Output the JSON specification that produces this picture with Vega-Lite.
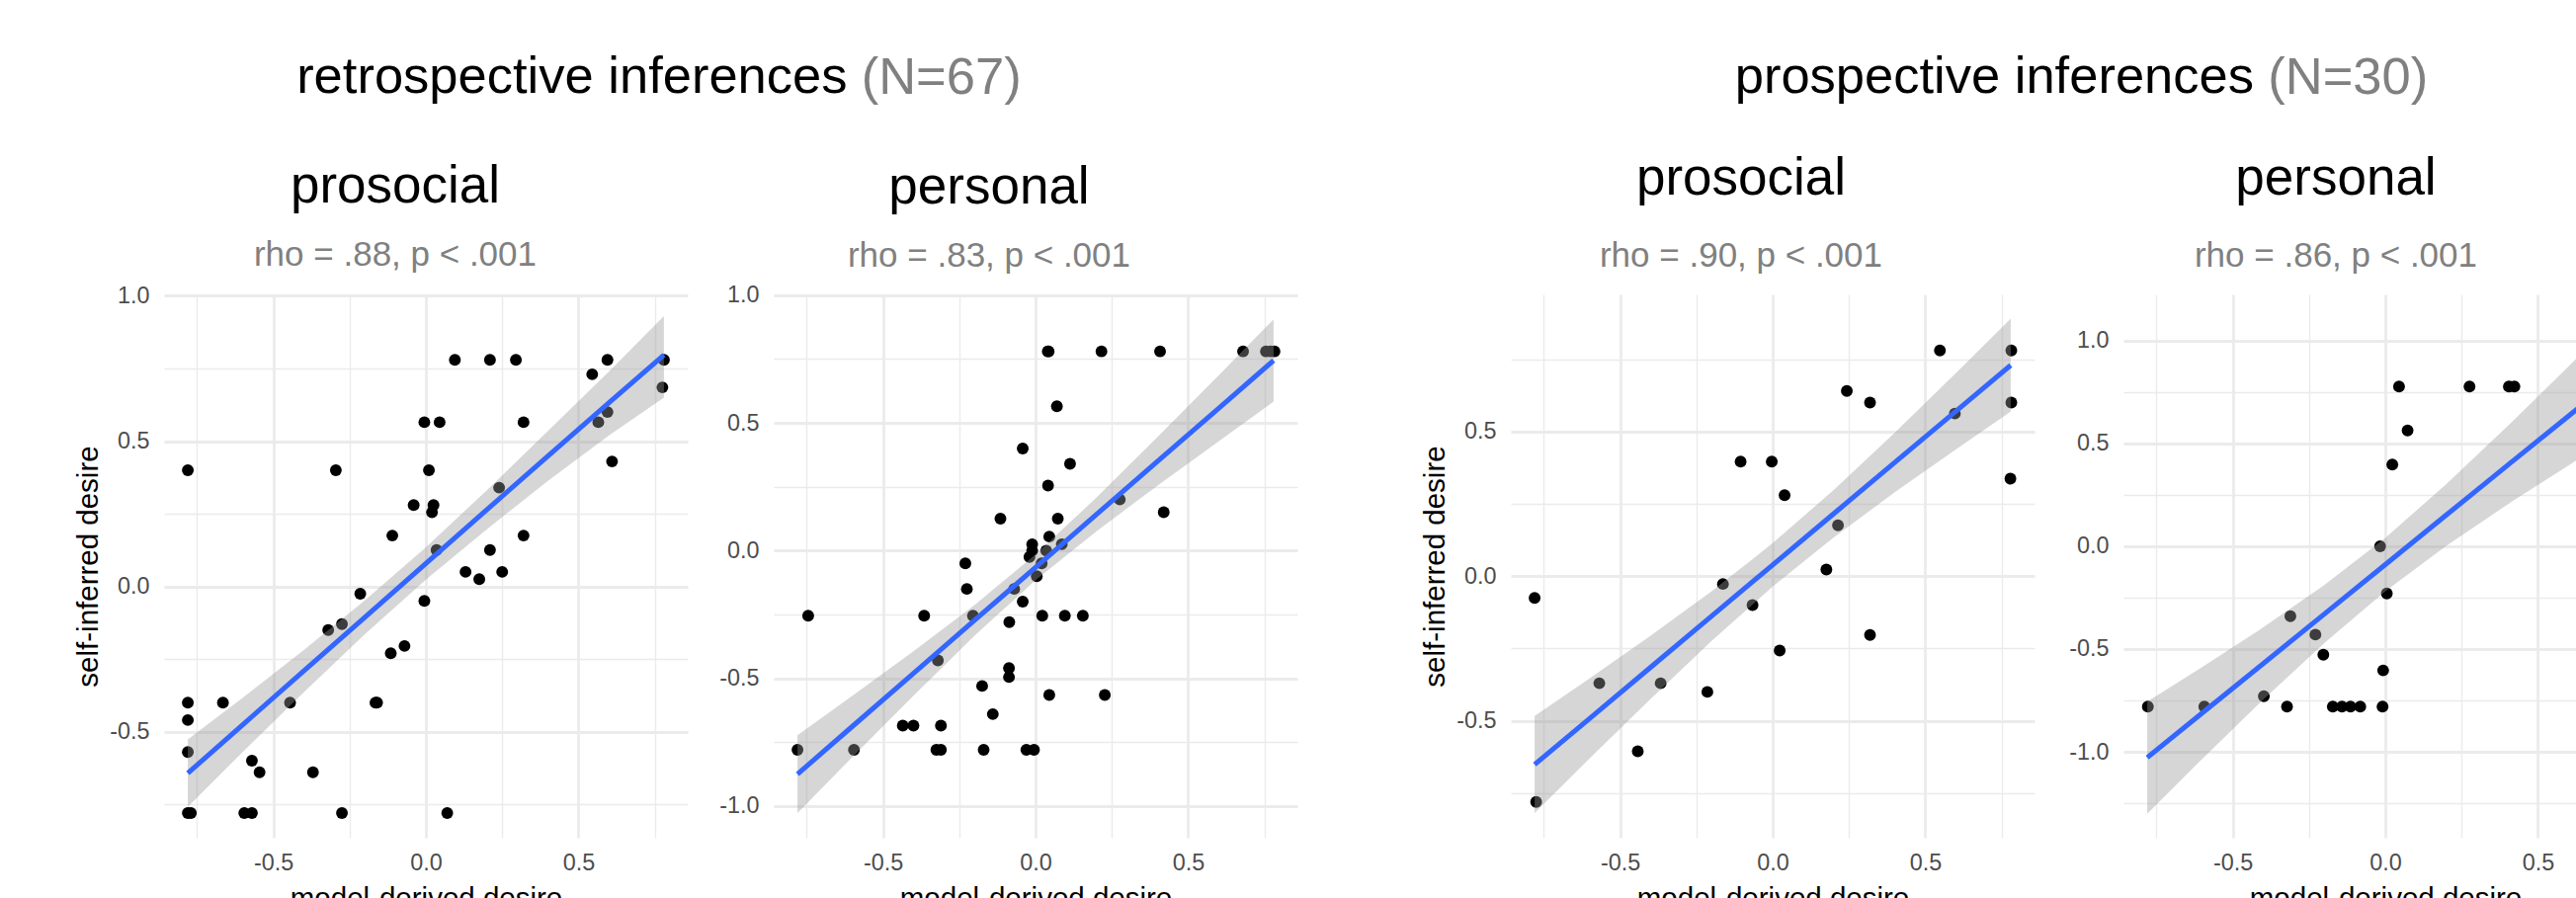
{
  "$schema": "https://vega.github.io/schema/vega-lite/v6.json",
  "background": "white",
  "padding": {"left": 74, "top": 52, "right": 0, "bottom": 0},
  "datasets": {
    "pts": [
      {"p":"P1","x":-0.78,"y":0.40},{"p":"P1","x":-0.78,"y":-0.40},{"p":"P1","x":-0.78,"y":-0.46},{"p":"P1","x":-0.78,"y":-0.57},{"p":"P1","x":-0.78,"y":-0.78},{"p":"P1","x":-0.77,"y":-0.78},
      {"p":"P1","x":-0.665,"y":-0.40},{"p":"P1","x":-0.57,"y":-0.60},{"p":"P1","x":-0.545,"y":-0.64},{"p":"P1","x":-0.595,"y":-0.78},{"p":"P1","x":-0.57,"y":-0.78},{"p":"P1","x":-0.445,"y":-0.40},
      {"p":"P1","x":-0.37,"y":-0.64},{"p":"P1","x":-0.32,"y":-0.15},{"p":"P1","x":-0.295,"y":0.40},{"p":"P1","x":-0.275,"y":-0.13},{"p":"P1","x":-0.275,"y":-0.78},{"p":"P1","x":-0.215,"y":-0.025},
      {"p":"P1","x":-0.165,"y":-0.40},{"p":"P1","x":-0.16,"y":-0.40},{"p":"P1","x":-0.115,"y":-0.23},{"p":"P1","x":-0.11,"y":0.175},{"p":"P1","x":-0.07,"y":-0.205},{"p":"P1","x":-0.04,"y":0.28},
      {"p":"P1","x":-0.005,"y":-0.05},{"p":"P1","x":-0.005,"y":0.565},{"p":"P1","x":0.01,"y":0.40},{"p":"P1","x":0.025,"y":0.28},{"p":"P1","x":0.02,"y":0.255},{"p":"P1","x":0.035,"y":0.125},
      {"p":"P1","x":0.045,"y":0.565},{"p":"P1","x":0.07,"y":-0.78},{"p":"P1","x":0.095,"y":0.78},{"p":"P1","x":0.13,"y":0.05},{"p":"P1","x":0.175,"y":0.025},{"p":"P1","x":0.21,"y":0.78},
      {"p":"P1","x":0.21,"y":0.125},{"p":"P1","x":0.24,"y":0.34},{"p":"P1","x":0.25,"y":0.05},{"p":"P1","x":0.295,"y":0.78},{"p":"P1","x":0.32,"y":0.565},{"p":"P1","x":0.32,"y":0.175},
      {"p":"P1","x":0.545,"y":0.73},{"p":"P1","x":0.565,"y":0.565},{"p":"P1","x":0.595,"y":0.78},{"p":"P1","x":0.595,"y":0.60},{"p":"P1","x":0.61,"y":0.43},{"p":"P1","x":0.775,"y":0.685},{"p":"P1","x":0.78,"y":0.78},

      {"p":"P2","x":-0.78,"y":-0.78},{"p":"P2","x":-0.745,"y":-0.255},{"p":"P2","x":-0.595,"y":-0.78},{"p":"P2","x":-0.435,"y":-0.685},{"p":"P2","x":-0.40,"y":-0.685},{"p":"P2","x":-0.365,"y":-0.255},
      {"p":"P2","x":-0.32,"y":-0.43},{"p":"P2","x":-0.31,"y":-0.685},{"p":"P2","x":-0.325,"y":-0.78},{"p":"P2","x":-0.31,"y":-0.78},{"p":"P2","x":-0.23,"y":-0.05},{"p":"P2","x":-0.225,"y":-0.15},
      {"p":"P2","x":-0.205,"y":-0.255},{"p":"P2","x":-0.175,"y":-0.53},{"p":"P2","x":-0.17,"y":-0.78},{"p":"P2","x":-0.14,"y":-0.64},{"p":"P2","x":-0.115,"y":0.125},{"p":"P2","x":-0.087,"y":-0.46},
      {"p":"P2","x":-0.087,"y":-0.495},{"p":"P2","x":-0.086,"y":-0.28},{"p":"P2","x":-0.07,"y":-0.15},{"p":"P2","x":-0.042,"y":0.40},{"p":"P2","x":-0.042,"y":-0.20},{"p":"P2","x":-0.03,"y":-0.78},
      {"p":"P2","x":-0.005,"y":-0.78},{"p":"P2","x":-0.02,"y":-0.025},{"p":"P2","x":-0.011,"y":0.025},{"p":"P2","x":-0.011,"y":0.0},{"p":"P2","x":0.004,"y":-0.10},{"p":"P2","x":0.02,"y":-0.05},
      {"p":"P2","x":0.022,"y":-0.255},{"p":"P2","x":0.04,"y":0.78},{"p":"P2","x":0.043,"y":0.78},{"p":"P2","x":0.041,"y":0.255},{"p":"P2","x":0.045,"y":0.055},{"p":"P2","x":0.035,"y":0.0},
      {"p":"P2","x":0.045,"y":-0.565},{"p":"P2","x":0.07,"y":0.565},{"p":"P2","x":0.073,"y":0.125},{"p":"P2","x":0.086,"y":0.025},{"p":"P2","x":0.096,"y":-0.255},{"p":"P2","x":0.113,"y":0.34},
      {"p":"P2","x":0.155,"y":-0.255},{"p":"P2","x":0.216,"y":0.78},{"p":"P2","x":0.227,"y":-0.565},{"p":"P2","x":0.276,"y":0.20},{"p":"P2","x":0.408,"y":0.78},{"p":"P2","x":0.42,"y":0.15},
      {"p":"P2","x":0.68,"y":0.78},{"p":"P2","x":0.755,"y":0.78},{"p":"P2","x":0.77,"y":0.78},{"p":"P2","x":0.783,"y":0.78},

      {"p":"P3","x":-0.78,"y":-0.075},{"p":"P3","x":-0.775,"y":-0.78},{"p":"P3","x":-0.568,"y":-0.37},{"p":"P3","x":-0.442,"y":-0.605},{"p":"P3","x":-0.367,"y":-0.37},{"p":"P3","x":-0.214,"y":-0.40},
      {"p":"P3","x":-0.163,"y":-0.027},{"p":"P3","x":-0.105,"y":0.396},{"p":"P3","x":-0.066,"y":-0.10},{"p":"P3","x":-0.003,"y":0.396},{"p":"P3","x":0.023,"y":-0.257},{"p":"P3","x":0.039,"y":0.28},
      {"p":"P3","x":0.176,"y":0.023},{"p":"P3","x":0.214,"y":0.176},{"p":"P3","x":0.243,"y":0.64},{"p":"P3","x":0.319,"y":0.60},{"p":"P3","x":0.319,"y":-0.203},{"p":"P3","x":0.548,"y":0.78},
      {"p":"P3","x":0.597,"y":0.562},{"p":"P3","x":0.782,"y":0.78},{"p":"P3","x":0.782,"y":0.60},{"p":"P3","x":0.779,"y":0.337},

      {"p":"P4","x":-0.778,"y":-0.78},{"p":"P4","x":-0.593,"y":-0.78},{"p":"P4","x":-0.398,"y":-0.73},{"p":"P4","x":-0.322,"y":-0.78},{"p":"P4","x":-0.311,"y":-0.34},{"p":"P4","x":-0.229,"y":-0.43},
      {"p":"P4","x":-0.203,"y":-0.528},{"p":"P4","x":-0.172,"y":-0.78},{"p":"P4","x":-0.142,"y":-0.78},{"p":"P4","x":-0.114,"y":-0.78},{"p":"P4","x":-0.082,"y":-0.78},{"p":"P4","x":-0.017,"y":0.0},
      {"p":"P4","x":-0.009,"y":-0.78},{"p":"P4","x":-0.007,"y":-0.604},{"p":"P4","x":0.005,"y":-0.23},{"p":"P4","x":0.023,"y":0.397},{"p":"P4","x":0.045,"y":0.777},{"p":"P4","x":0.073,"y":0.563},
      {"p":"P4","x":0.276,"y":0.777},{"p":"P4","x":0.405,"y":0.777},{"p":"P4","x":0.423,"y":0.777}
    ],
    "fit": [
      {"p":"P1","x":-0.78,"fit":-0.643,"lo":-0.759,"hi":-0.527},{"p":"P1","x":-0.6,"fit":-0.476,"lo":-0.570,"hi":-0.383},{"p":"P1","x":-0.4,"fit":-0.291,"lo":-0.364,"hi":-0.219},
      {"p":"P1","x":-0.2,"fit":-0.106,"lo":-0.165,"hi":-0.048},{"p":"P1","x":0,"fit":0.079,"lo":0.023,"hi":0.135},{"p":"P1","x":0.2,"fit":0.264,"lo":0.197,"hi":0.331},
      {"p":"P1","x":0.4,"fit":0.449,"lo":0.363,"hi":0.535},{"p":"P1","x":0.6,"fit":0.632,"lo":0.520,"hi":0.740},{"p":"P1","x":0.78,"fit":0.796,"lo":0.650,"hi":0.930},

      {"p":"P2","x":-0.78,"fit":-0.875,"lo":-1.027,"hi":-0.723},{"p":"P2","x":-0.6,"fit":-0.688,"lo":-0.808,"hi":-0.568},{"p":"P2","x":-0.4,"fit":-0.481,"lo":-0.568,"hi":-0.394},
      {"p":"P2","x":-0.2,"fit":-0.273,"lo":-0.333,"hi":-0.213},{"p":"P2","x":0,"fit":-0.066,"lo":-0.116,"hi":-0.015},{"p":"P2","x":0.2,"fit":0.142,"lo":0.076,"hi":0.208},
      {"p":"P2","x":0.4,"fit":0.350,"lo":0.255,"hi":0.445},{"p":"P2","x":0.6,"fit":0.557,"lo":0.428,"hi":0.686},{"p":"P2","x":0.78,"fit":0.744,"lo":0.583,"hi":0.905},

      {"p":"P3","x":-0.78,"fit":-0.651,"lo":-0.819,"hi":-0.483},{"p":"P3","x":-0.6,"fit":-0.492,"lo":-0.630,"hi":-0.353},{"p":"P3","x":-0.4,"fit":-0.315,"lo":-0.424,"hi":-0.206},
      {"p":"P3","x":-0.2,"fit":-0.138,"lo":-0.224,"hi":-0.052},{"p":"P3","x":0,"fit":0.039,"lo":-0.036,"hi":0.114},{"p":"P3","x":0.2,"fit":0.216,"lo":0.134,"hi":0.298},
      {"p":"P3","x":0.4,"fit":0.393,"lo":0.290,"hi":0.496},{"p":"P3","x":0.6,"fit":0.570,"lo":0.438,"hi":0.702},{"p":"P3","x":0.78,"fit":0.729,"lo":0.569,"hi":0.890},

      {"p":"P4","x":-0.78,"fit":-1.028,"lo":-1.301,"hi":-0.756},{"p":"P4","x":-0.6,"fit":-0.811,"lo":-1.035,"hi":-0.588},{"p":"P4","x":-0.4,"fit":-0.571,"lo":-0.746,"hi":-0.395},
      {"p":"P4","x":-0.2,"fit":-0.330,"lo":-0.471,"hi":-0.189},{"p":"P4","x":0,"fit":-0.089,"lo":-0.219,"hi":0.041},{"p":"P4","x":0.2,"fit":0.152,"lo":0.002,"hi":0.302},
      {"p":"P4","x":0.4,"fit":0.393,"lo":0.203,"hi":0.583},{"p":"P4","x":0.6,"fit":0.633,"lo":0.393,"hi":0.874},{"p":"P4","x":0.78,"fit":0.850,"lo":0.559,"hi":1.141}
    ]
  },
  "spacing": 124,
  "hconcat": [
    {
      "title": {"text": "retrospective inferences", "anchor": "end", "frame": "bounds", "dx": -455.5, "dy": 52.5, "offset": 0, "fontSize": 52.5, "color": "#000000"},
      "vconcat": [
        {
          "title": {"text": "(N=67)", "anchor": "start", "frame": "bounds", "dx": 797, "offset": 56.5, "fontSize": 52.5, "color": "#808080"},
          "spacing": 87,
          "bounds": "flush",
          "hconcat": [
            {
              "width": 530, "height": 550,
              "title": {"text": "prosocial", "subtitle": "rho = .88, p < .001", "anchor": "middle", "frame": "group", "dx": -31, "subtitlePadding": 25, "offset": 11},
              "layer": [
                {"data": {"name": "pts"}, "transform": [{"filter": "datum.p == 'P1'"}],
                 "mark": {"type": "circle", "size": 142, "color": "#000000", "opacity": 1},
                 "encoding": {
                   "x": {"field": "x", "type": "quantitative", "scale": {"domain": [-0.858, 0.858], "nice": false, "zero": false},
                         "axis": {"values": [-0.75,-0.5,-0.25,0,0.25,0.5,0.75], "title": "model-derived desire", "labelPadding": 14, "titlePadding": 11,
                                  "labelExpr": "abs(datum.value*2 - round(datum.value*2)) < 0.01 ? replace(format(datum.value, '.1f'), '\u2212', '-') : ''",
                                  "gridWidth": {"condition": {"test": "abs(datum.value*2 - round(datum.value*2)) < 0.01", "value": 2.8}, "value": 1.4}}},
                   "y": {"field": "y", "type": "quantitative", "scale": {"domain": [-0.865, 1.005], "nice": false, "zero": false},
                         "axis": {"values": [-0.75,-0.5,-0.25,0,0.25,0.5,0.75,1], "title": "self-inferred desire", "labelPadding": 15, "titlePadding": 6,
                                  "labelExpr": "abs(datum.value*2 - round(datum.value*2)) < 0.01 ? replace(format(datum.value, '.1f'), '\u2212', '-') : ''",
                                  "gridWidth": {"condition": {"test": "abs(datum.value*2 - round(datum.value*2)) < 0.01", "value": 2.8}, "value": 1.4}}}
                 }},
                {"data": {"name": "fit"}, "transform": [{"filter": "datum.p == 'P1'"}],
                 "mark": {"type": "area", "color": "#999999", "opacity": 0.4},
                 "encoding": {"x": {"field": "x", "type": "quantitative"}, "y": {"field": "lo", "type": "quantitative"}, "y2": {"field": "hi"}}},
                {"data": {"name": "fit"}, "transform": [{"filter": "datum.p == 'P1'"}],
                 "mark": {"type": "line", "color": "#3366FF", "strokeWidth": 5},
                 "encoding": {"x": {"field": "x", "type": "quantitative"}, "y": {"field": "fit", "type": "quantitative"}}}
              ]
            },
            {
              "width": 530, "height": 550,
              "title": {"text": "personal", "subtitle": "rho = .83, p < .001", "anchor": "middle", "frame": "group", "dx": -47, "subtitlePadding": 25, "offset": 10},
              "layer": [
                {"data": {"name": "pts"}, "transform": [{"filter": "datum.p == 'P2'"}],
                 "mark": {"type": "circle", "size": 142, "color": "#000000", "opacity": 1},
                 "encoding": {
                   "x": {"field": "x", "type": "quantitative", "scale": {"domain": [-0.858, 0.858], "nice": false, "zero": false},
                         "axis": {"values": [-0.75,-0.5,-0.25,0,0.25,0.5,0.75], "title": "model-derived desire", "labelPadding": 14, "titlePadding": 11,
                                  "labelExpr": "abs(datum.value*2 - round(datum.value*2)) < 0.01 ? replace(format(datum.value, '.1f'), '\u2212', '-') : ''",
                                  "gridWidth": {"condition": {"test": "abs(datum.value*2 - round(datum.value*2)) < 0.01", "value": 2.8}, "value": 1.4}}},
                   "y": {"field": "y", "type": "quantitative", "scale": {"domain": [-1.124, 1.003], "nice": false, "zero": false},
                         "axis": {"values": [-1,-0.75,-0.5,-0.25,0,0.25,0.5,0.75,1], "title": null, "labelPadding": 15,
                                  "labelExpr": "abs(datum.value*2 - round(datum.value*2)) < 0.01 ? replace(format(datum.value, '.1f'), '\u2212', '-') : ''",
                                  "gridWidth": {"condition": {"test": "abs(datum.value*2 - round(datum.value*2)) < 0.01", "value": 2.8}, "value": 1.4}}}
                 }},
                {"data": {"name": "fit"}, "transform": [{"filter": "datum.p == 'P2'"}],
                 "mark": {"type": "area", "color": "#999999", "opacity": 0.4},
                 "encoding": {"x": {"field": "x", "type": "quantitative"}, "y": {"field": "lo", "type": "quantitative"}, "y2": {"field": "hi"}}},
                {"data": {"name": "fit"}, "transform": [{"filter": "datum.p == 'P2'"}],
                 "mark": {"type": "line", "color": "#3366FF", "strokeWidth": 5},
                 "encoding": {"x": {"field": "x", "type": "quantitative"}, "y": {"field": "fit", "type": "quantitative"}}}
              ]
            }
          ]
        }
      ]
    },
    {
      "title": {"text": "prospective inferences", "anchor": "end", "frame": "bounds", "dx": -398, "dy": 52.5, "offset": 0, "fontSize": 52.5, "color": "#000000"},
      "vconcat": [
        {
          "title": {"text": "(N=30)", "anchor": "start", "frame": "bounds", "dx": 857.6, "offset": 48.2, "fontSize": 52.5, "color": "#808080"},
          "spacing": 90,
          "bounds": "flush",
          "hconcat": [
            {
              "width": 530, "height": 550,
              "title": {"text": "prosocial", "subtitle": "rho = .90, p < .001", "anchor": "middle", "frame": "group", "dx": -32, "subtitlePadding": 33.5, "offset": 21.5},
              "layer": [
                {"data": {"name": "pts"}, "transform": [{"filter": "datum.p == 'P3'"}],
                 "mark": {"type": "circle", "size": 142, "color": "#000000", "opacity": 1},
                 "encoding": {
                   "x": {"field": "x", "type": "quantitative", "scale": {"domain": [-0.858, 0.858], "nice": false, "zero": false},
                         "axis": {"values": [-0.75,-0.5,-0.25,0,0.25,0.5,0.75], "title": "model-derived desire", "labelPadding": 14, "titlePadding": 11,
                                  "labelExpr": "abs(datum.value*2 - round(datum.value*2)) < 0.01 ? replace(format(datum.value, '.1f'), '\u2212', '-') : ''",
                                  "gridWidth": {"condition": {"test": "abs(datum.value*2 - round(datum.value*2)) < 0.01", "value": 2.8}, "value": 1.4}}},
                   "y": {"field": "y", "type": "quantitative", "scale": {"domain": [-0.904, 0.974], "nice": false, "zero": false},
                         "axis": {"values": [-0.75,-0.5,-0.25,0,0.25,0.5,0.75], "title": "self-inferred desire", "labelPadding": 15, "titlePadding": 6,
                                  "labelExpr": "abs(datum.value*2 - round(datum.value*2)) < 0.01 ? replace(format(datum.value, '.1f'), '\u2212', '-') : ''",
                                  "gridWidth": {"condition": {"test": "abs(datum.value*2 - round(datum.value*2)) < 0.01", "value": 2.8}, "value": 1.4}}}
                 }},
                {"data": {"name": "fit"}, "transform": [{"filter": "datum.p == 'P3'"}],
                 "mark": {"type": "area", "color": "#999999", "opacity": 0.4},
                 "encoding": {"x": {"field": "x", "type": "quantitative"}, "y": {"field": "lo", "type": "quantitative"}, "y2": {"field": "hi"}}},
                {"data": {"name": "fit"}, "transform": [{"filter": "datum.p == 'P3'"}],
                 "mark": {"type": "line", "color": "#3366FF", "strokeWidth": 5},
                 "encoding": {"x": {"field": "x", "type": "quantitative"}, "y": {"field": "fit", "type": "quantitative"}}}
              ]
            },
            {
              "width": 530, "height": 550,
              "title": {"text": "personal", "subtitle": "rho = .86, p < .001", "anchor": "middle", "frame": "group", "dx": -50, "subtitlePadding": 33.5, "offset": 21.5},
              "layer": [
                {"data": {"name": "pts"}, "transform": [{"filter": "datum.p == 'P4'"}],
                 "mark": {"type": "circle", "size": 142, "color": "#000000", "opacity": 1},
                 "encoding": {
                   "x": {"field": "x", "type": "quantitative", "scale": {"domain": [-0.858, 0.858], "nice": false, "zero": false},
                         "axis": {"values": [-0.75,-0.5,-0.25,0,0.25,0.5,0.75], "title": "model-derived desire", "labelPadding": 14, "titlePadding": 11,
                                  "labelExpr": "abs(datum.value*2 - round(datum.value*2)) < 0.01 ? replace(format(datum.value, '.1f'), '\u2212', '-') : ''",
                                  "gridWidth": {"condition": {"test": "abs(datum.value*2 - round(datum.value*2)) < 0.01", "value": 2.8}, "value": 1.4}}},
                   "y": {"field": "y", "type": "quantitative", "scale": {"domain": [-1.418, 1.225], "nice": false, "zero": false},
                         "axis": {"values": [-1.25,-1,-0.75,-0.5,-0.25,0,0.25,0.5,0.75,1], "title": null, "labelPadding": 15,
                                  "labelExpr": "abs(datum.value*2 - round(datum.value*2)) < 0.01 ? replace(format(datum.value, '.1f'), '\u2212', '-') : ''",
                                  "gridWidth": {"condition": {"test": "abs(datum.value*2 - round(datum.value*2)) < 0.01", "value": 2.8}, "value": 1.4}}}
                 }},
                {"data": {"name": "fit"}, "transform": [{"filter": "datum.p == 'P4'"}],
                 "mark": {"type": "area", "color": "#999999", "opacity": 0.4},
                 "encoding": {"x": {"field": "x", "type": "quantitative"}, "y": {"field": "lo", "type": "quantitative"}, "y2": {"field": "hi"}}},
                {"data": {"name": "fit"}, "transform": [{"filter": "datum.p == 'P4'"}],
                 "mark": {"type": "line", "color": "#3366FF", "strokeWidth": 5},
                 "encoding": {"x": {"field": "x", "type": "quantitative"}, "y": {"field": "fit", "type": "quantitative"}}}
              ]
            }
          ]
        }
      ]
    }
  ],
  "config": {
    "view": {"stroke": null},
    "axis": {
      "domain": false, "ticks": false, "tickSize": 0, "grid": true, "gridColor": "#EBEBEB",
      "labelFont": "Liberation Sans", "labelFontSize": 23.4, "labelColor": "#4D4D4D",
      "titleFont": "Liberation Sans", "titleFontSize": 29.5, "titleFontWeight": "normal", "titleColor": "#000000",
      "labelOverlap": false, "labelFlush": false, "labelBound": false
    },
    "title": {
      "font": "Liberation Sans", "fontSize": 53, "fontWeight": "normal", "color": "#000000",
      "subtitleFont": "Liberation Sans", "subtitleFontSize": 35, "subtitleColor": "#808080", "subtitleFontWeight": "normal"
    }
  }
}
